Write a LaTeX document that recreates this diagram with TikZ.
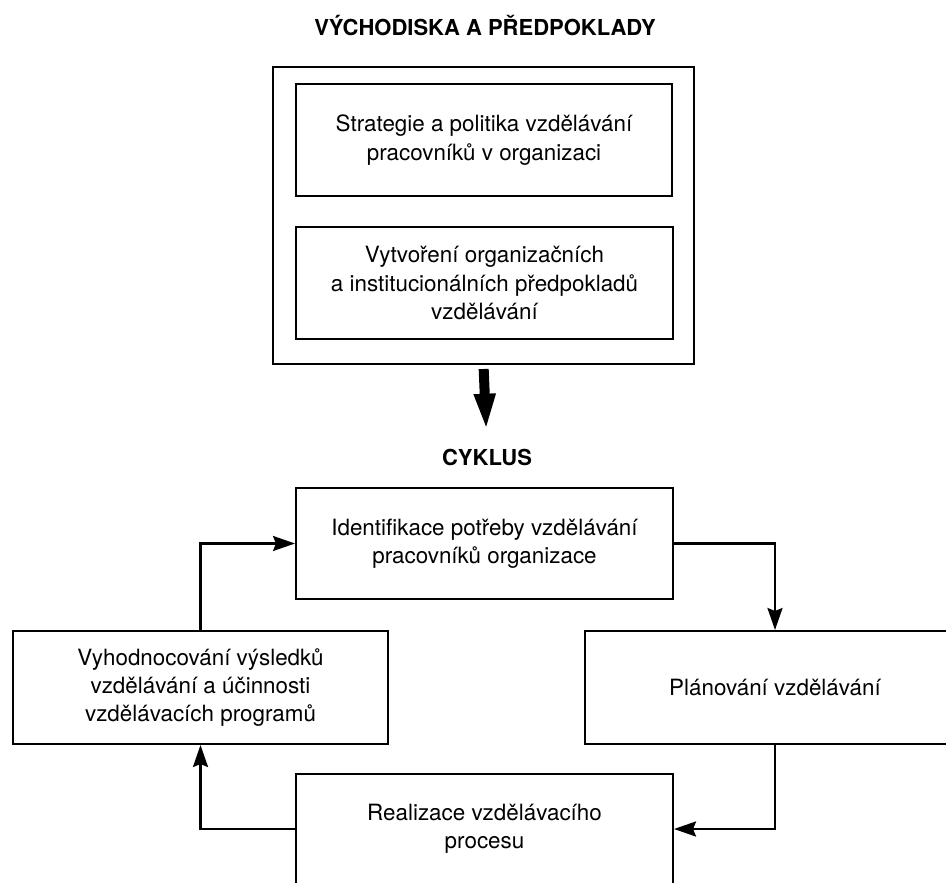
\documentclass[tikz,border=0pt]{standalone}
\usepackage{fontspec}
\setmainfont{TeX Gyre Heros}
\usetikzlibrary{arrows.meta}
\tikzset{every picture/.style={line width=1pt}}
\tikzset{
  box/.style={draw, align=center, inner sep=0pt, font=\fontsize{11.2}{14.2}\selectfont},
  head/.style={font=\bfseries\fontsize{11}{13}\selectfont, inner sep=0pt, anchor=base},
  flow/.style={-{Stealth[length=11pt,width=7.5pt,inset=1.5pt]}, line width=1.2pt},
  bigarrow/.style={-{Triangle[length=19pt,width=9.5pt]}, line width=5pt}
}

\begin{document}
\begin{tikzpicture}[x=0.5pt,y=-0.5pt]
    \useasboundingbox (0,0) rectangle (946,882);
    % Prerequisites
    \node[head] (title) at (485,36) {VÝCHODISKA A PŘEDPOKLADY};
    \node[box, minimum width=210.5pt, minimum height=148.5pt] (prep) at (483.5,215.5) {};
    \node[box, minimum width=188pt, minimum height=56pt] (strat) at (484,140)
        {Strategie a politika vzdělávání\\pracovníků v organizaci};
    \node[box, minimum width=188.5pt, minimum height=56pt] (inst) at (484.5,283)
        {Vytvoření organizačních\\a institucionálních předpokladů\\vzdělávání};
    % Cycle
    \node[head] (cyklus) at (487,465) {CYKLUS};
    \draw[bigarrow, shorten <=2pt, shorten >=8pt] (prep.south) -- (cyklus.north);
    \node[box, minimum width=188.5pt, minimum height=55.5pt] (ident) at (484.5,543.5)
        {Identifikace potřeby vzdělávání\\pracovníků organizace};
    \node[box, minimum width=190pt, minimum height=56.5pt] (plan) at (775,687.5)
        {Plánování vzdělávání};
    \node[box, minimum width=188.5pt, minimum height=55pt] (real) at (484.5,829)
        {Realizace vzdělávacího\\procesu};
    \node[box, minimum width=187.5pt, minimum height=56.5pt] (eval) at (200.5,687.5)
        {Vyhodnocování výsledků\\vzdělávání a účinnosti\\vzdělávacích programů};
    % Connectors
    \draw[flow] (eval.north) |- (ident.west);
    \draw[flow] (ident.east) -| (plan.north);
    \draw[flow] (plan.south) |- (real.east);
    \draw[flow] (real.west) -| (eval.south);
\end{tikzpicture}
\end{document}
